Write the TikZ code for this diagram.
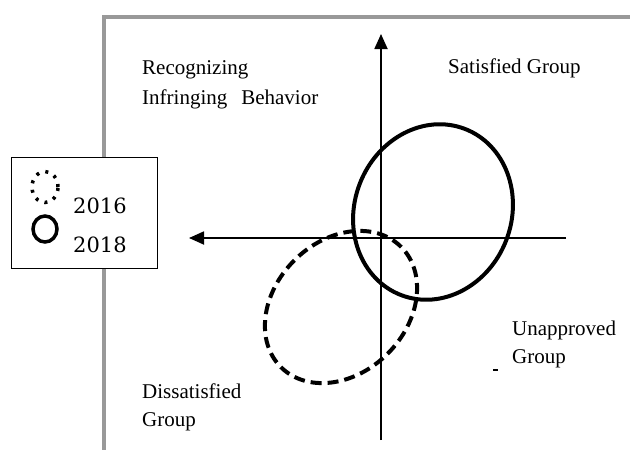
\documentclass[tikz,border=0pt]{standalone}
\usepackage{fontspec}
\newfontfamily\tnr{Liberation Serif}
\newfontfamily\dvs{DejaVu Serif}
\usetikzlibrary{arrows.meta,shapes.geometric}
\tikzset{
  frameline/.style={draw=black!40, line width=4pt},
  axisline/.style={draw=black, line width=1.8pt, -{Triangle[length=15pt,width=13pt]}},
  lbl/.style={anchor=base west, inner sep=0pt, font=\tnr\fontsize{21}{29}\selectfont},
  yearlbl/.style={anchor=base west, inner sep=0pt, font=\dvs\fontsize{21}{28}\selectfont},
  groupA/.style={ellipse, draw=black, line width=4pt, inner sep=0pt, minimum width=157pt, minimum height=178pt, rotate=-21},
  groupB/.style={ellipse, draw=black, line width=4pt, inner sep=0pt, dash pattern=on 11pt off 6pt, minimum width=170pt, minimum height=132pt, rotate=45},
}
\begin{document}
\begin{tikzpicture}[x=1pt,y=-1pt]
\useasboundingbox (0,0) rectangle (630,450);
% frame
\coordinate (fbl) at (104,452);
\coordinate (ftr) at (632,17);
\draw[frameline] (fbl) |- (ftr);
% axes
\coordinate (ybot) at (381,440);
\coordinate (ytop) at (381,34);
\coordinate (xright) at (566,238);
\coordinate (xleft) at (189,238);
\draw[axisline] (ybot) -- (ytop);
\draw[axisline] (xright) -- (xleft);
% ellipses
\node[groupA] (g2018) at (433,212) {};
\node[groupB] (g2016) at (341,307) {};
% labels
\node[lbl] (recog1) at (142,74) {Recognizing};
\node[lbl] (recog2) at (142,104) {Infringing\hspace{14pt}Behavior};
\node[lbl] (sat) at (448,73) {Satisfied Group};
\node[lbl] (dis1) at (142,398) {Dissatisfied};
\node[lbl] (dis2) at (142,426) {Group};
\node[lbl] (unap1) at (512,335) {Unapproved};
\node[lbl] (unap2) at (512,363) {Group};
\node[fill=black, inner sep=0pt, minimum width=5pt, minimum height=2.5pt] (tick) at (495,370) {};
% legend
\node[draw=black, line width=0.8pt, fill=white, inner sep=0pt, minimum width=146pt, minimum height=111pt, anchor=north west] (legend) at (11,157) {};
\node[ellipse, draw=black, line width=3.5pt, dash pattern=on 3pt off 6.5pt, inner sep=0pt, minimum width=26pt, minimum height=31pt] (sym2016) at (45,187) {};
\node[ellipse, draw=black, line width=3.5pt, inner sep=0pt, minimum width=24pt, minimum height=26pt] (sym2018) at (45,229) {};
\node[yearlbl] (y2016) at (73,213) {2016};
\node[yearlbl] (y2018) at (73,252) {2018};
\end{tikzpicture}
\end{document}
